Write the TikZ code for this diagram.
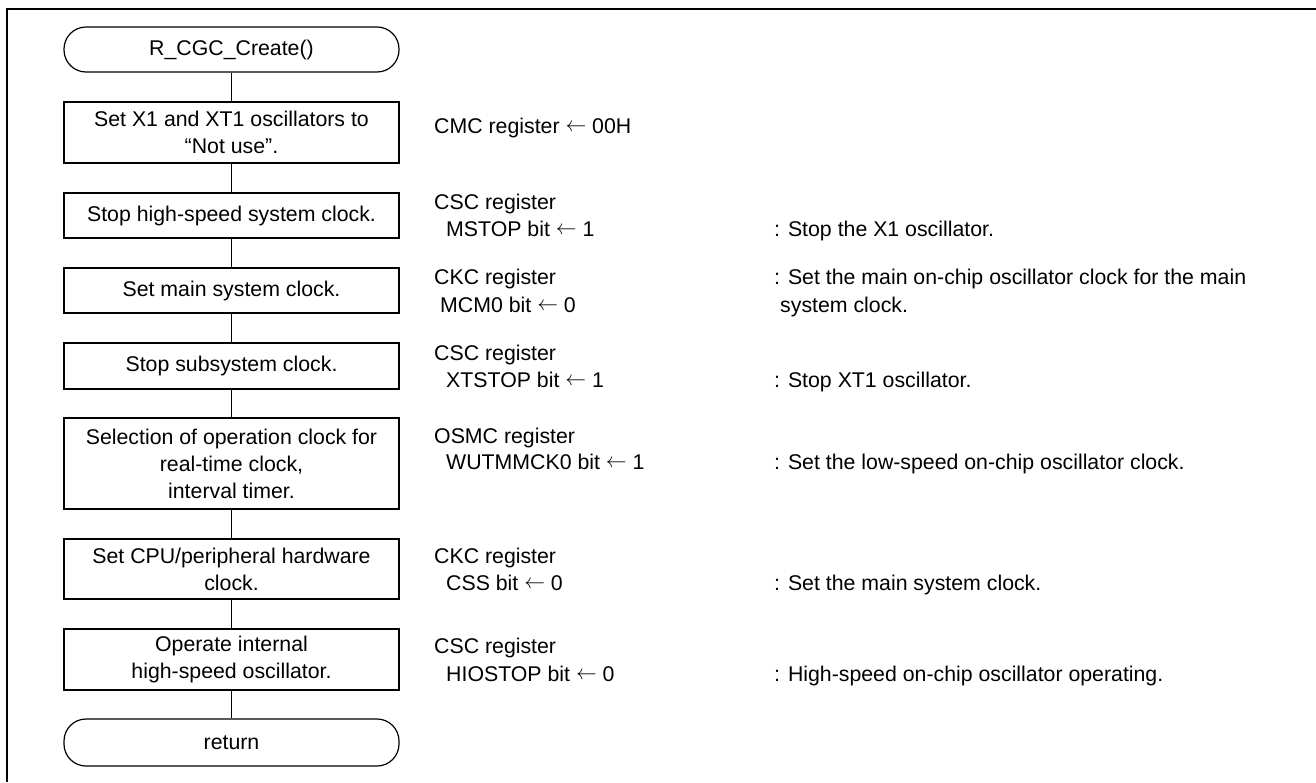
\documentclass[tikz,border=0pt]{standalone}
\usepackage{fontspec}
\usepackage{graphicx}
\setmainfont{Liberation Sans}
\newcommand\myarr{\raisebox{2pt}{$\leftarrow$}}
\begin{document}
\begin{tikzpicture}[x=1pt,y=-1pt,
  every node/.style={font=\fontsize{21.3}{27}\selectfont, inner sep=0pt, text=black},
  proc/.style={draw, line width=1.2pt, minimum width=335pt, align=center},
  term/.style={draw, line width=1.2pt, minimum width=335pt, rounded corners=22pt, align=center},
  txt/.style={anchor=base west},
  conn/.style={line width=1.1pt},
  frame/.style={line width=2pt}]
\useasboundingbox (0,0) rectangle (1316,782);
\draw[frame] (7,782) -- (7,9) -- (1316,9);
% flow
\node[term, minimum height=45pt] (t1) at (231.5,49.5) {R\_CGC\_Create()};
\node[proc, minimum height=61pt] (b1) at (231.5,132.5) {Set X1 and XT1 oscillators to\\“Not use”.};
\node[proc, minimum height=45pt] (b2) at (231.5,215.5) {Stop high-speed system clock.};
\node[proc, minimum height=45pt] (b3) at (231.5,290.5) {Set main system clock.};
\node[proc, minimum height=46pt] (b4) at (231.5,366) {Stop subsystem clock.};
\node[proc, minimum height=91pt] (b5) at (231.5,463.5) {Selection of operation clock for\\real-time clock,\\interval timer.};
\node[proc, minimum height=60pt] (b6) at (231.5,569) {Set CPU/peripheral hardware\\clock.};
\node[proc, minimum height=61pt] (b7) at (231.5,659.5) {Operate internal\\high-speed oscillator.};
\node[term, minimum height=47pt] (t2) at (231.5,742.5) {return};
\draw[conn] (t1) -- (b1);
\draw[conn] (b1) -- (b2);
\draw[conn] (b2) -- (b3);
\draw[conn] (b3) -- (b4);
\draw[conn] (b4) -- (b5);
\draw[conn] (b5) -- (b6);
\draw[conn] (b6) -- (b7);
\draw[conn] (b7) -- (t2);
% register column
\node[txt] (r1) at (434,133) {CMC register \myarr\ 00H};
\node[txt] (r2a) at (434,209) {CSC register};
\node[txt] (r2b) at (446,236) {MSTOP bit \myarr\ 1};
\node[txt] (r3a) at (434,284) {CKC register};
\node[txt] (r3b) at (440,312) {MCM0 bit \myarr\ 0};
\node[txt] (r4a) at (434,360) {CSC register};
\node[txt] (r4b) at (446,387) {XTSTOP bit \myarr\ 1};
\node[txt] (r5a) at (434,443) {OSMC register};
\node[txt] (r5b) at (446,469) {WUTMMCK0 bit \myarr\ 1};
\node[txt] (r6a) at (434,563) {CKC register};
\node[txt] (r6b) at (446,590) {CSS bit \myarr\ 0};
\node[txt] (r7a) at (434,653) {CSC register};
\node[txt] (r7b) at (446,681) {HIOSTOP bit \myarr\ 0};
% description column
\node[txt] (d2) at (774,236) {: Stop the X1 oscillator.};
\node[txt] (d3a) at (774,284) {: Set the main on-chip oscillator clock for the main};
\node[txt] (d3b) at (780,312) {system clock.};
\node[txt] (d4) at (774,387) {: Stop XT1 oscillator.};
\node[txt] (d5) at (774,469) {: Set the low-speed on-chip oscillator clock.};
\node[txt] (d6) at (774,590) {: Set the main system clock.};
\node[txt] (d7) at (774,681) {: High-speed on-chip oscillator operating.};
\end{tikzpicture}
\end{document}
